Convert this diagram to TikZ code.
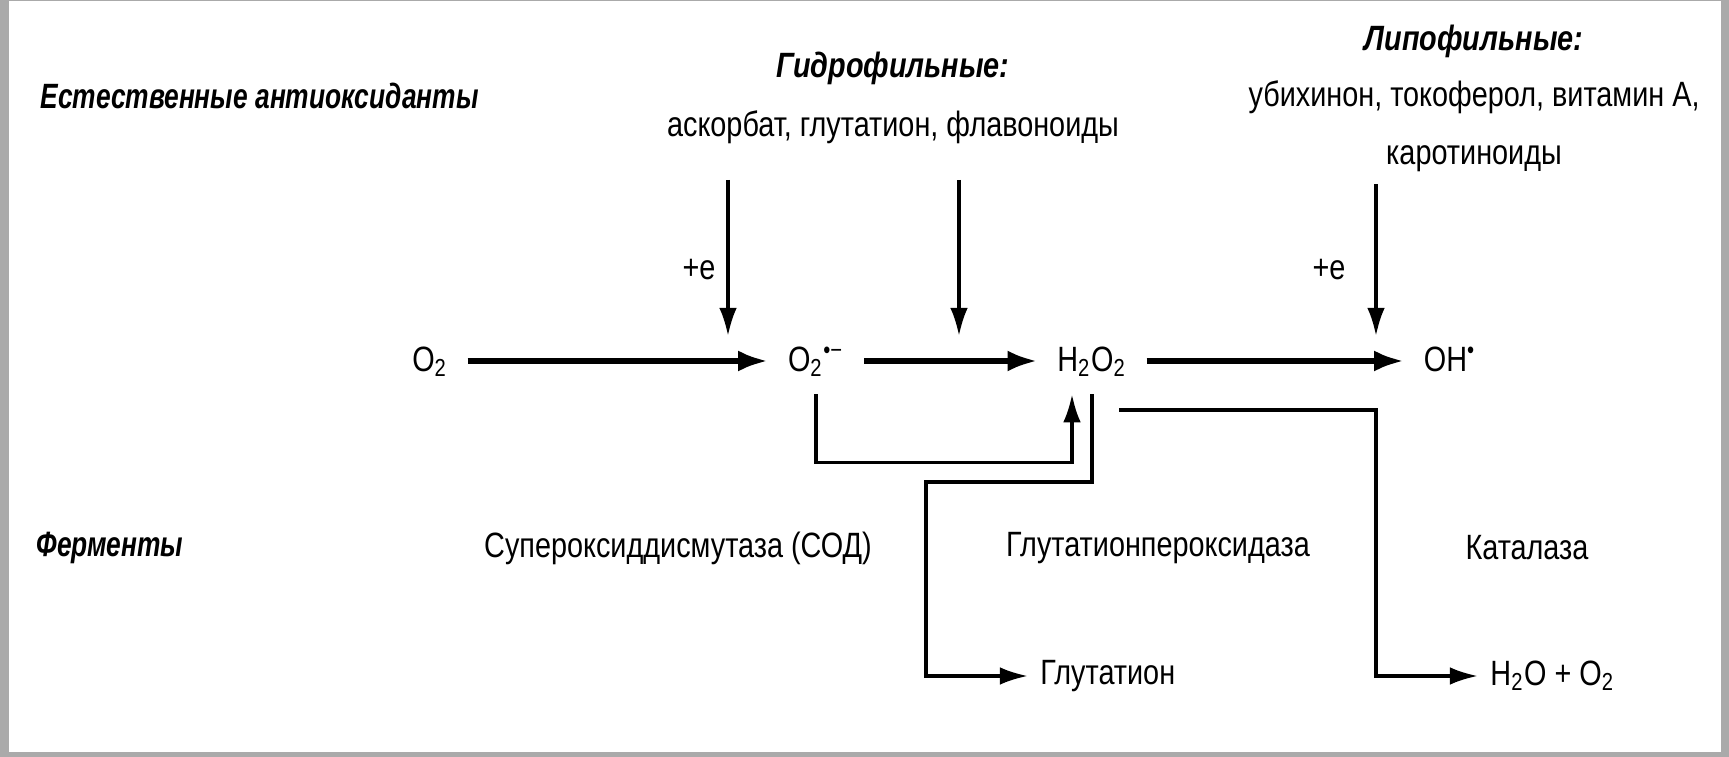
\documentclass[tikz,border=0pt]{standalone}
\usepackage{fontspec}
\setmainfont[FakeStretch=0.82]{Liberation Sans}
\newfontfamily\sidefont[FakeStretch=0.75]{Liberation Sans}
\usetikzlibrary{arrows.meta}
\definecolor{framegray}{RGB}{170,170,170}

\begin{document}
\begin{tikzpicture}[
  every node/.style={font=\fontsize{10}{12}\selectfont},
  head/.style={font=\fontsize{10}{12}\selectfont\bfseries\itshape},
  side/.style={font=\fontsize{10}{12}\sidefont\bfseries\itshape, anchor=west},
  chem/.style={inner xsep=5.5pt, inner ysep=3.7pt, text height=1.6ex, text depth=0.5ex},
  arr/.style={-{Latex[length=8.5pt,width=6pt]}, line width=1.6pt},
  feed/.style={-{Latex[length=8pt,width=5pt]}, line width=0.95pt}]
% frame
\fill[framegray] (0,0) rectangle (17.29,-7.57);
\fill[white] (0.09,-0.01) rectangle (17.21,-7.52);

% antioxidants
\node[side] (natural) at (0.28,-0.96) {Естественные антиоксиданты};
\node[head] (hydro) at (8.93,-0.68) {Гидрофильные:};
\node (hydrolist) at (8.93,-1.27) {аскорбат, глутатион, флавоноиды};
\node[head] (lipo) at (14.74,-0.41) {Липофильные:};
\node[align=center, font=\fontsize{10}{16.6}\selectfont] (lipolist) at (14.74,-1.26)
  {убихинон, токоферол, витамин А,\\каротиноиды};

% main chain
\node[chem] (o2) at (4.30,-3.61) {O\textsubscript{2}};
\node[chem] (sup) at (8.16,-3.61) {O\textsubscript{2}\textsuperscript{•−}};
\node[chem] (h2o2) at (10.92,-3.61) {H\textsubscript{2}O\textsubscript{2}};
\node[chem] (oh) at (14.50,-3.61) {OH\textsuperscript{•}};
\draw[arr] (o2) -- (sup);
\draw[arr] (sup) -- (h2o2);
\draw[arr] (h2o2) -- (oh);

% electrons in
\coordinate (e1) at (7.28,-3.36);
\coordinate (e2) at (9.59,-3.36);
\coordinate (e3) at (13.76,-3.36);
\node (plus1) at (6.99,-2.70) {+e};
\node (plus2) at (13.29,-2.70) {+e};
\draw[feed] (hydrolist.south -| e1) ++(0,-0.24) -- (e1);
\draw[feed] (hydrolist.south -| e2) ++(0,-0.24) -- (e2);
\draw[feed] (lipolist.south -| e3) ++(0,0.0) -- (e3);

% enzymes
\node[side] (ferm) at (0.24,-5.48) {Ферменты};
\node (sod) at (6.78,-5.48) {Супероксиддисмутаза (СОД)};
\node (gpx) at (11.58,-5.48) {Глутатионпероксидаза};
\node (cat) at (15.27,-5.48) {Каталаза};

% products
\node[anchor=west] (glut) at (10.28,-6.76) {Глутатион};
\node[anchor=west] (prod) at (14.78,-6.76) {H\textsubscript{2}O + O\textsubscript{2}};
\coordinate (gturn) at (9.26,-4.82);
\coordinate (cat0) at (11.19,-4.10);

\draw[feed] (sup.south) -- ++(0,-0.68) -| ([xshift=-2mm]h2o2.south);
\draw[feed] (h2o2.south) |- (gturn) |- (glut.west);
\draw[feed] (cat0) -| (prod.west -| e3) -- (prod.west);
\end{tikzpicture}
\end{document}
